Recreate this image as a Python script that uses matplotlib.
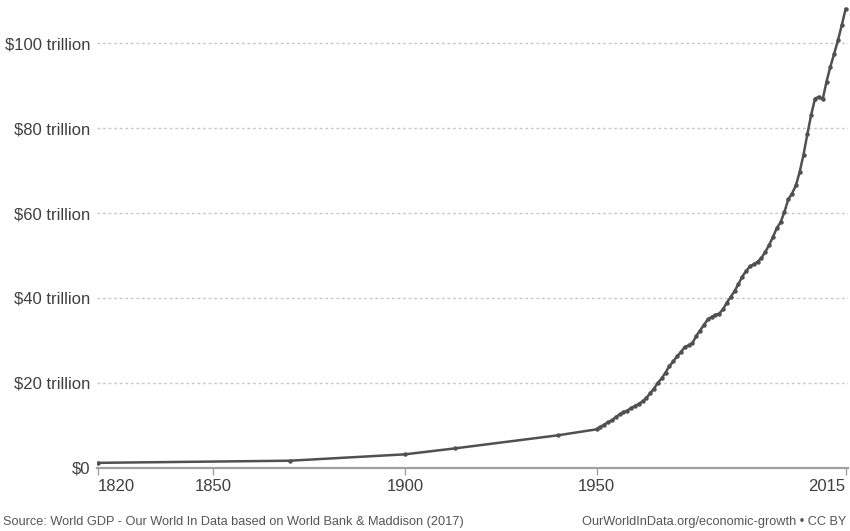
import numpy as np
import matplotlib.pyplot as plt

plt.rcParams['font.family'] = ['Liberation Sans', 'DejaVu Sans']

# World GDP, trillions of int. dollars
early_years = [1820, 1870, 1900, 1913, 1940]
early_gdp = [1.1, 1.6, 3.1, 4.5, 7.6]

annual_years = list(range(1950, 2016))
annual_gdp = [
    9.0, 9.6, 10.1, 10.7, 11.1, 11.9, 12.5, 13.0, 13.4, 14.0,   # 1950s
    14.5, 15.0, 15.6, 16.4, 17.5, 18.6, 20.0, 21.0, 22.4, 23.9,  # 1960s
    25.0, 26.2, 27.2, 28.4, 28.8, 29.3, 31.0, 32.3, 33.6, 34.9,  # 1970s
    35.5, 36.0, 36.3, 37.3, 38.9, 40.2, 41.6, 43.2, 45.0, 46.3,  # 1980s
    47.4, 47.9, 48.5, 49.4, 50.8, 52.4, 54.3, 56.4, 57.8, 60.2,  # 1990s
    63.2, 64.6, 66.5, 69.7, 73.8, 78.6, 83.2, 87.0, 87.4, 86.8,  # 2000s
    91.0, 94.5, 97.6, 100.8, 104.4, 108.2,                       # 2010s
]

years = early_years + annual_years
gdp = early_gdp + annual_gdp

x_ticks = [1820, 1850, 1900, 1950, 2015]
y_ticks = [0, 20, 40, 60, 80, 100]
y_labels = ['$0', '$20 trillion', '$40 trillion', '$60 trillion',
            '$80 trillion', '$100 trillion']

fig = plt.figure(figsize=(8.5, 5.31), dpi=100)
ax = fig.add_axes([97 / 850, (531 - 467.5) / 531, 751 / 850, 466.5 / 531])

for v in y_ticks[1:]:
    ax.axhline(v, color='#c8c8c8', lw=1, ls=(0, (2, 2)), zorder=0)

ax.plot(years, gdp, color='#505050', lw=1.8, marker='o', ms=2.2,
        solid_capstyle='round', zorder=3)

ax.set_xlim(1819.7, 2015.6)
ax.set_ylim(0, 110)

for s in ['top', 'right', 'left']:
    ax.spines[s].set_visible(False)
ax.spines['bottom'].set_color('#a0a0a0')
ax.spines['bottom'].set_linewidth(1.6)

ax.set_xticks(x_ticks)
ax.set_xticklabels([str(t) for t in x_ticks])
ax.set_yticks(y_ticks)
ax.set_yticklabels(y_labels)
ax.tick_params(axis='x', direction='out', length=5, width=1, color='#a0a0a0',
               labelsize=12, labelcolor='#404040', pad=3)
ax.tick_params(axis='y', length=0, labelsize=12, labelcolor='#404040', pad=5)

# first and last year labels sit inside the axis ends
xlabels = ax.get_xticklabels()
xlabels[0].set_ha('left')
xlabels[-1].set_ha('right')

fig.text(3 / 850, 1 - 522 / 531,
         'Source: World GDP - Our World In Data based on World Bank & Maddison (2017)',
         fontsize=9.2, color='#555555', va='center', ha='left')
fig.text(846 / 850, 1 - 522 / 531,
         'OurWorldInData.org/economic-growth \u2022 CC BY',
         fontsize=9.2, color='#555555', va='center', ha='right')

fig.savefig('out.png', dpi=100)
